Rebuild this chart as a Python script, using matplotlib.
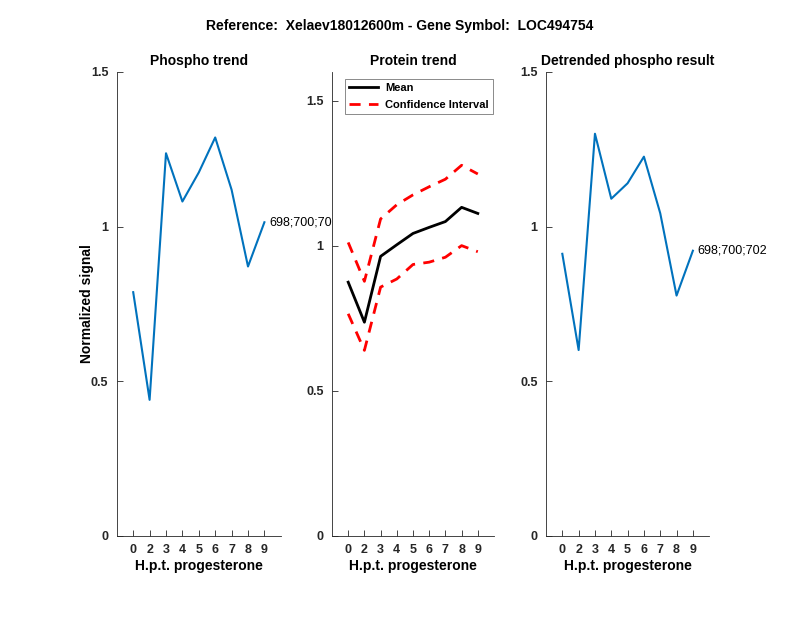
import numpy as np
import matplotlib
matplotlib.use('Agg')
import matplotlib.pyplot as plt

plt.rcParams['font.family'] = ['Liberation Sans', 'DejaVu Sans']

# time points (h.p.t. progesterone)
hpt_labels = ['0', '2', '3', '4', '5', '6', '7', '8', '9']
phospho = [0.788, 0.440, 1.237, 1.081, 1.175, 1.288, 1.119, 0.871, 1.014]
protein_mean = [0.875, 0.737, 0.964, 1.004, 1.043, 1.064, 1.084, 1.133, 1.112]
protein_upper = [1.012, 0.878, 1.093, 1.142, 1.176, 1.204, 1.230, 1.278, 1.248]
protein_lower = [0.766, 0.640, 0.858, 0.886, 0.936, 0.944, 0.961, 1.001, 0.980]
detrended = [0.912, 0.601, 1.300, 1.090, 1.140, 1.226, 1.043, 0.777, 0.922]
site_label = '698;700;702'

blue = '#0072BD'
axcol = '#262626'
xs = np.arange(1, len(hpt_labels) + 1)

fig = plt.figure(figsize=(8, 6.18), dpi=100)
fig.text(0.5, 0.958, 'Reference:  Xelaev18012600m - Gene Symbol:  LOC494754',
         ha='center', va='center', fontsize=10, fontweight='bold')

positions = [[0.146, 0.1327, 0.205, 0.751],
             [0.415, 0.1327, 0.2025, 0.751],
             [0.6825, 0.1327, 0.204, 0.751]]


def style_ax(ax, ylim, yticks):
    ax.set_xlim(0, 10)
    ax.set_ylim(*ylim)
    ax.set_xticks(xs)
    ax.set_xticklabels(hpt_labels)
    ax.set_yticks(yticks)
    ax.set_yticklabels([('%g' % t) for t in yticks])
    ax.spines['top'].set_visible(False)
    ax.spines['right'].set_visible(False)
    for s in ['left', 'bottom']:
        ax.spines[s].set_color(axcol)
        ax.spines[s].set_linewidth(0.6)
    ax.tick_params(direction='in', length=4, width=0.6, color=axcol,
                   labelsize=9, labelcolor=axcol, pad=6)
    for lab in ax.get_xticklabels() + ax.get_yticklabels():
        lab.set_fontweight('bold')
    ax.set_xlabel('H.p.t. progesterone', fontsize=10, fontweight='bold',
                  labelpad=2)


# phospho trend
ax1 = fig.add_axes(positions[0])
ax1.plot(xs, phospho, color=blue, lw=1.5)
style_ax(ax1, (0, 1.5), [0, 0.5, 1, 1.5])
ax1.set_title('Phospho trend', fontsize=10, fontweight='bold', pad=5)
ax1.set_ylabel('Normalized signal', fontsize=10, fontweight='bold', labelpad=-2)
ax1.text(xs[-1] + 0.3, phospho[-1], site_label, fontsize=9, va='center',
         clip_on=False)

# protein trend
ax2 = fig.add_axes(positions[1])
ax2.plot(xs, protein_mean, color='k', lw=2, label='Mean')
ax2.plot(xs, protein_upper, color='r', lw=2, ls=(0, (4, 3)),
         label='Confidence Interval')
ax2.plot(xs, protein_lower, color='r', lw=2, ls=(0, (4, 3)))
style_ax(ax2, (0, 1.6), [0, 0.5, 1, 1.5])
ax2.set_title('Protein trend', fontsize=10, fontweight='bold', pad=5)
leg = ax2.legend(loc='upper left', bbox_to_anchor=(0.08, 0.985), fontsize=8,
                 frameon=True, fancybox=False, borderaxespad=0,
                 handlelength=2.6, labelspacing=0.6, borderpad=0.4,
                 handletextpad=0.6)
leg.get_frame().set_edgecolor('#555555')
leg.get_frame().set_linewidth(0.6)
for t in leg.get_texts():
    t.set_fontweight('bold')

# detrended phospho
ax3 = fig.add_axes(positions[2])
ax3.plot(xs, detrended, color=blue, lw=1.5)
style_ax(ax3, (0, 1.5), [0, 0.5, 1, 1.5])
ax3.set_title('Detrended phospho result', fontsize=10, fontweight='bold', pad=5)
ax3.text(xs[-1] + 0.3, detrended[-1], site_label, fontsize=9, va='center',
         clip_on=False)

fig.savefig('out.png', dpi=100)
